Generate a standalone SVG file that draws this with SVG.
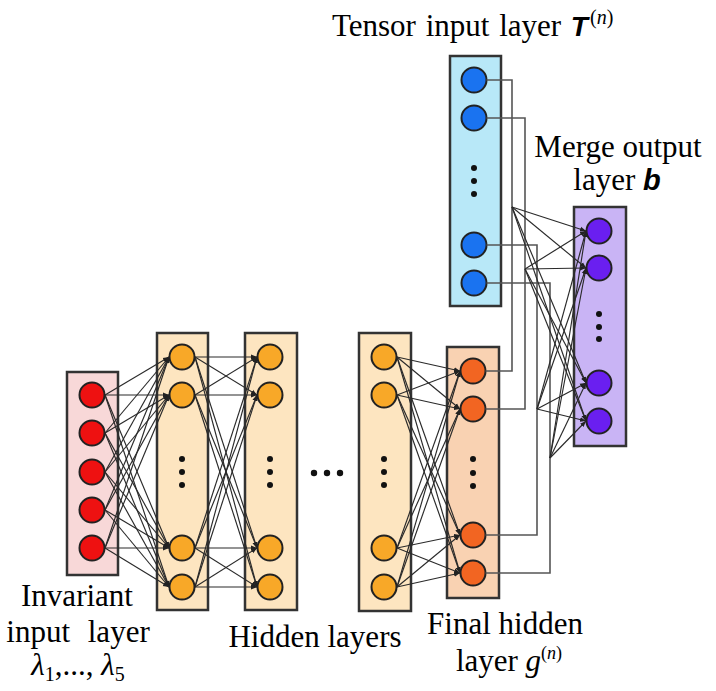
<svg xmlns="http://www.w3.org/2000/svg" width="716" height="691" viewBox="0 0 716 691">
<style>
.box{stroke:#333;stroke-width:2.5}
.nd{stroke:#222;stroke-width:2}
.dot{fill:#111}
.c line{stroke:#2a2a2a;stroke-width:1.15;marker-end:url(#a)}
.o{fill:none;stroke:#555;stroke-width:1.6}
.t{font-family:"Liberation Serif","Times New Roman",serif;font-size:31px;fill:#000}
.bi{font-family:"Liberation Sans",Arial,sans-serif;font-weight:bold;font-style:italic}
</style>
<defs>
<marker id="a" viewBox="0 0 10 10" refX="10" refY="5" markerWidth="6" markerHeight="6" markerUnits="userSpaceOnUse" orient="auto"><path d="M0,1 L10,5 L0,9z" fill="#222"/></marker>
</defs>
<rect width="716" height="691" fill="#fff"/>

<g id="invariant-layer">
<rect class="box" x="67" y="372" width="51" height="203" fill="#f8d8d8"/>
<g fill="#ee1111">
<circle class="nd" cx="92" cy="395" r="12.5"/>
<circle class="nd" cx="92" cy="433" r="12.5"/>
<circle class="nd" cx="92" cy="472" r="12.5"/>
<circle class="nd" cx="92" cy="510" r="12.5"/>
<circle class="nd" cx="92" cy="548" r="12.5"/>
</g>
</g>

<g id="hidden-layer-1">
<rect class="box" x="157" y="333" width="51" height="277" fill="#fde5c0"/>
<g fill="#f8a828">
<circle class="nd" cx="182" cy="357" r="12.5"/>
<circle class="nd" cx="182" cy="395" r="12.5"/>
<circle class="nd" cx="182" cy="548" r="12.5"/>
<circle class="nd" cx="182" cy="587" r="12.5"/>
</g>
<circle class="dot" cx="182" cy="459" r="3"/><circle class="dot" cx="182" cy="472" r="3"/><circle class="dot" cx="182" cy="485" r="3"/>
</g>

<g id="hidden-layer-2">
<rect class="box" x="245" y="333" width="52" height="277" fill="#fde5c0"/>
<g fill="#f8a828">
<circle class="nd" cx="270" cy="357" r="12.5"/>
<circle class="nd" cx="270" cy="395" r="12.5"/>
<circle class="nd" cx="270" cy="548" r="12.5"/>
<circle class="nd" cx="270" cy="587" r="12.5"/>
</g>
<circle class="dot" cx="270" cy="459" r="3"/><circle class="dot" cx="270" cy="472" r="3"/><circle class="dot" cx="270" cy="485" r="3"/>
</g>

<g id="ellipsis">
<circle class="dot" cx="314" cy="473" r="3.2"/><circle class="dot" cx="327" cy="473" r="3.2"/><circle class="dot" cx="340" cy="473" r="3.2"/>
</g>

<g id="hidden-layer-3">
<rect class="box" x="359" y="333" width="52" height="278" fill="#fde5c0"/>
<g fill="#f8a828">
<circle class="nd" cx="384" cy="357" r="12.5"/>
<circle class="nd" cx="384" cy="395" r="12.5"/>
<circle class="nd" cx="384" cy="548" r="12.5"/>
<circle class="nd" cx="384" cy="587" r="12.5"/>
</g>
<circle class="dot" cx="384" cy="459" r="3"/><circle class="dot" cx="384" cy="472" r="3"/><circle class="dot" cx="384" cy="485" r="3"/>
</g>

<g id="final-hidden-layer">
<rect class="box" x="447" y="347" width="52" height="251" fill="#f9d2b2"/>
<g fill="#f26522">
<circle class="nd" cx="473" cy="371" r="12.5"/>
<circle class="nd" cx="473" cy="409" r="12.5"/>
<circle class="nd" cx="473" cy="535" r="12.5"/>
<circle class="nd" cx="473" cy="573" r="12.5"/>
</g>
<circle class="dot" cx="473" cy="459" r="3"/><circle class="dot" cx="473" cy="473" r="3"/><circle class="dot" cx="473" cy="486" r="3"/>
</g>

<g id="tensor-input-layer">
<rect class="box" x="450" y="56" width="51" height="250" fill="#b8e8f8"/>
<g fill="#1a73f0">
<circle class="nd" cx="474" cy="80" r="12.5"/>
<circle class="nd" cx="474" cy="118" r="12.5"/>
<circle class="nd" cx="474" cy="245" r="12.5"/>
<circle class="nd" cx="474" cy="283" r="12.5"/>
</g>
<circle class="dot" cx="474" cy="168" r="3"/><circle class="dot" cx="474" cy="181" r="3"/><circle class="dot" cx="474" cy="194" r="3"/>
</g>

<g id="merge-output-layer">
<rect class="box" x="574" y="207" width="52" height="239" fill="#c9b4f5"/>
<g fill="#6a1ff0">
<circle class="nd" cx="599" cy="231" r="12.5"/>
<circle class="nd" cx="599" cy="268" r="12.5"/>
<circle class="nd" cx="599" cy="383" r="12.5"/>
<circle class="nd" cx="599" cy="421" r="12.5"/>
</g>
<circle class="dot" cx="599" cy="314" r="3"/><circle class="dot" cx="599" cy="327" r="3"/><circle class="dot" cx="599" cy="339" r="3"/>
</g>

<g id="connectors">
<path class="o" d="M486.5,80 H512 V371 H485.5"/>
<path class="o" d="M486.5,118 H525 V409 H485.5"/>
<path class="o" d="M486.5,245 H537 V535 H485.5"/>
<path class="o" d="M486.5,283 H550 V573 H485.5"/>
<g class="c">
<line x1="105" y1="395" x2="169" y2="357"/><line x1="105" y1="395" x2="169" y2="395"/><line x1="105" y1="395" x2="169" y2="548"/><line x1="105" y1="395" x2="169" y2="587"/>
<line x1="105" y1="433" x2="169" y2="357"/><line x1="105" y1="433" x2="169" y2="395"/><line x1="105" y1="433" x2="169" y2="548"/><line x1="105" y1="433" x2="169" y2="587"/>
<line x1="105" y1="472" x2="169" y2="357"/><line x1="105" y1="472" x2="169" y2="395"/><line x1="105" y1="472" x2="169" y2="548"/><line x1="105" y1="472" x2="169" y2="587"/>
<line x1="105" y1="510" x2="169" y2="357"/><line x1="105" y1="510" x2="169" y2="395"/><line x1="105" y1="510" x2="169" y2="548"/><line x1="105" y1="510" x2="169" y2="587"/>
<line x1="105" y1="548" x2="169" y2="357"/><line x1="105" y1="548" x2="169" y2="395"/><line x1="105" y1="548" x2="169" y2="548"/><line x1="105" y1="548" x2="169" y2="587"/>

<line x1="195" y1="357" x2="257" y2="357"/><line x1="195" y1="357" x2="257" y2="395"/><line x1="195" y1="357" x2="257" y2="548"/><line x1="195" y1="357" x2="257" y2="587"/>
<line x1="195" y1="395" x2="257" y2="357"/><line x1="195" y1="395" x2="257" y2="395"/><line x1="195" y1="395" x2="257" y2="548"/><line x1="195" y1="395" x2="257" y2="587"/>
<line x1="195" y1="548" x2="257" y2="357"/><line x1="195" y1="548" x2="257" y2="395"/><line x1="195" y1="548" x2="257" y2="548"/><line x1="195" y1="548" x2="257" y2="587"/>
<line x1="195" y1="587" x2="257" y2="357"/><line x1="195" y1="587" x2="257" y2="395"/><line x1="195" y1="587" x2="257" y2="548"/><line x1="195" y1="587" x2="257" y2="587"/>

<line x1="397" y1="357" x2="460" y2="371"/><line x1="397" y1="357" x2="460" y2="409"/><line x1="397" y1="357" x2="460" y2="535"/><line x1="397" y1="357" x2="460" y2="573"/>
<line x1="397" y1="395" x2="460" y2="371"/><line x1="397" y1="395" x2="460" y2="409"/><line x1="397" y1="395" x2="460" y2="535"/><line x1="397" y1="395" x2="460" y2="573"/>
<line x1="397" y1="548" x2="460" y2="371"/><line x1="397" y1="548" x2="460" y2="409"/><line x1="397" y1="548" x2="460" y2="535"/><line x1="397" y1="548" x2="460" y2="573"/>
<line x1="397" y1="587" x2="460" y2="371"/><line x1="397" y1="587" x2="460" y2="409"/><line x1="397" y1="587" x2="460" y2="535"/><line x1="397" y1="587" x2="460" y2="573"/>

<line x1="512" y1="207" x2="586" y2="231"/><line x1="512" y1="207" x2="586" y2="268"/><line x1="512" y1="207" x2="586" y2="383"/><line x1="512" y1="207" x2="586" y2="421"/>
<line x1="525" y1="269" x2="586" y2="231"/><line x1="525" y1="269" x2="586" y2="268"/><line x1="525" y1="269" x2="586" y2="383"/><line x1="525" y1="269" x2="586" y2="421"/>
<line x1="537" y1="409" x2="586" y2="231"/><line x1="537" y1="409" x2="586" y2="268"/><line x1="537" y1="409" x2="586" y2="383"/><line x1="537" y1="409" x2="586" y2="421"/>
<line x1="550" y1="458" x2="586" y2="231"/><line x1="550" y1="458" x2="586" y2="268"/><line x1="550" y1="458" x2="586" y2="383"/><line x1="550" y1="458" x2="586" y2="421"/>
</g>
</g>

<g id="labels">
<text class="t" x="332" y="36" word-spacing="2">Tensor input layer <tspan class="bi" font-size="28">T</tspan><tspan font-size="20" dx="2" dy="-12">(<tspan font-style="italic">n</tspan>)</tspan></text>
<text class="t" x="618" y="157" text-anchor="middle">Merge output</text>
<text class="t" x="617" y="190" text-anchor="middle">layer <tspan class="bi" font-size="29">b</tspan></text>
<text class="t" x="77" y="606" text-anchor="middle">Invariant</text>
<text class="t" x="78" y="642" text-anchor="middle" word-spacing="10">input layer</text>
<text class="t" x="78" y="675" text-anchor="middle"><tspan font-style="italic">λ</tspan><tspan font-size="20" dy="6">1</tspan><tspan dy="-6">,..., </tspan><tspan font-style="italic">λ</tspan><tspan font-size="20" dy="6">5</tspan></text>
<text class="t" x="315" y="647" text-anchor="middle">Hidden layers</text>
<text class="t" x="505" y="634" text-anchor="middle">Final hidden</text>
<text class="t" x="509" y="671" text-anchor="middle">layer <tspan font-style="italic">g</tspan><tspan font-size="18" dy="-12">(<tspan font-style="italic">n</tspan>)</tspan></text>
</g>
</svg>
